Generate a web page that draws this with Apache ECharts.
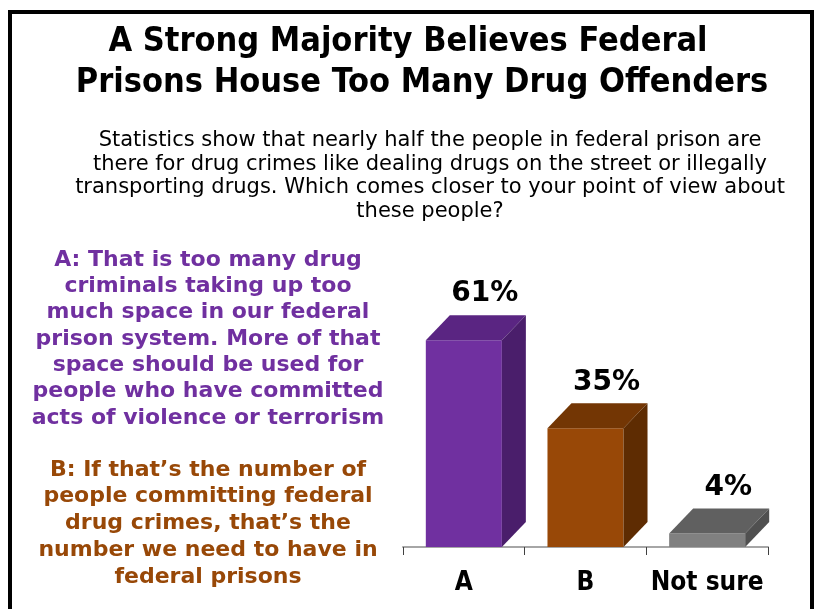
<!DOCTYPE html>
<html>
<head>
<meta charset="utf-8">
<script src="https://cdn.jsdelivr.net/npm/echarts@6/dist/echarts.min.js"></script>
<style>
html,body{margin:0;padding:0;background:#fff;}
#chart{width:816px;height:609px;}
</style>
</head>
<body>
<div id="chart"></div>
<script>
// ---- data ----
const categories = ['A', 'B', 'Not sure'];
const values = [61, 35, 4];
const frontColors = ['#7030A0', '#984807', '#808080'];
const topColors = ['#5A2582', '#733604', '#606060'];
const sideColors = ['#4A1E6B', '#5E2C02', '#505050'];
const valueLabels = ['61%', '35%', '4%'];

const titleLines = ['A Strong Majority Believes Federal', 'Prisons House Too Many Drug Offenders'];
const subtitleLines = [
  'Statistics show that nearly half the people in federal prison are',
  'there for drug crimes like dealing drugs on the street or illegally',
  'transporting drugs. Which comes closer to your point of view about',
  'these people?'
];
const optionALines = [
  'A: That is too many drug',
  'criminals taking up too',
  'much space in our federal',
  'prison system. More of that',
  'space should be used for',
  'people who have committed',
  'acts of violence or terrorism'
];
const optionBLines = [
  'B: If that\u2019s the number of',
  'people committing federal',
  'drug crimes, that\u2019s the',
  'number we need to have in',
  'federal prisons'
];

const chart = echarts.init(document.getElementById('chart'));

const DX = 24, DY = 25;
const cond = '"DejaVu Sans Condensed", "DejaVu Sans", sans-serif';
const wide = '"DejaVu Sans", sans-serif';

const graphics = [];
graphics.push({
  type: 'rect', silent: true,
  shape: { x: 10, y: 12, width: 802, height: 700 },
  style: { fill: 'none', stroke: '#000', lineWidth: 4 }
});
const titleCenters = [408, 422];
titleLines.forEach((t, i) => {
  graphics.push({
    type: 'text', x: titleCenters[i], y: 25 + i * 41,
    style: { text: t, fill: '#000', font: 'bold 34px ' + cond, align: 'center', verticalAlign: 'top' }
  });
});
subtitleLines.forEach((t, i) => {
  graphics.push({
    type: 'text', x: 430, y: 141 + i * 23.4,
    style: { text: t, fill: '#000', font: '21px ' + wide, align: 'center', verticalAlign: 'middle' }
  });
});
optionALines.forEach((t, i) => {
  graphics.push({
    type: 'text', x: 208, y: 260 + i * 26.3,
    style: { text: t, fill: '#7030A0', font: 'bold 22px ' + wide, align: 'center', verticalAlign: 'middle' }
  });
});
optionBLines.forEach((t, i) => {
  graphics.push({
    type: 'text', x: 208, y: 470 + i * 26.75,
    style: { text: t, fill: '#984807', font: 'bold 22px ' + wide, align: 'center', verticalAlign: 'middle' }
  });
});

chart.setOption({
  animation: false,
  backgroundColor: '#fff',
  graphic: graphics,
  grid: { left: 403, right: 48, top: 208, bottom: 62 },
  xAxis: {
    type: 'category',
    data: categories,
    axisLine: { lineStyle: { color: '#A6A6A6', width: 2 } },
    axisTick: { show: true, length: 8, lineStyle: { color: '#404040', width: 1 } },
    axisLabel: { interval: 0, color: '#000', fontFamily: cond, fontWeight: 'bold', fontSize: 26, margin: 23 }
  },
  yAxis: { type: 'value', min: 0, max: 100, show: false },
  series: [{
    type: 'custom',
    data: values.map((v, i) => [i, v]),
    encode: { x: 0, y: 1 },
    renderItem: function (params, api) {
      const i = api.value(0);
      const v = api.value(1);
      const top = api.coord([i, v]);
      const base = api.coord([i, 0]);
      const bw = api.size([1, 0])[0] * 0.625;
      const x0 = top[0] - bw / 2, x1 = top[0] + bw / 2;
      const yT = top[1], yB = base[1];
      return {
        type: 'group',
        children: [
          { type: 'rect', shape: { x: x0, y: yT, width: bw, height: yB - yT }, style: { fill: frontColors[i] } },
          { type: 'polygon', shape: { points: [[x0, yT], [x0 + DX, yT - DY], [x1 + DX, yT - DY], [x1, yT]] }, style: { fill: topColors[i] } },
          { type: 'polygon', shape: { points: [[x1, yT], [x1 + DX, yT - DY], [x1 + DX, yB - DY], [x1, yB]] }, style: { fill: sideColors[i] } },
          { type: 'text', x: top[0] + 21, y: yT - DY - 21,
            style: { text: valueLabels[i], fill: '#000', font: 'bold 28px ' + wide, align: 'center', verticalAlign: 'middle' } }
        ]
      };
    }
  }]
});
</script>
</body>
</html>
